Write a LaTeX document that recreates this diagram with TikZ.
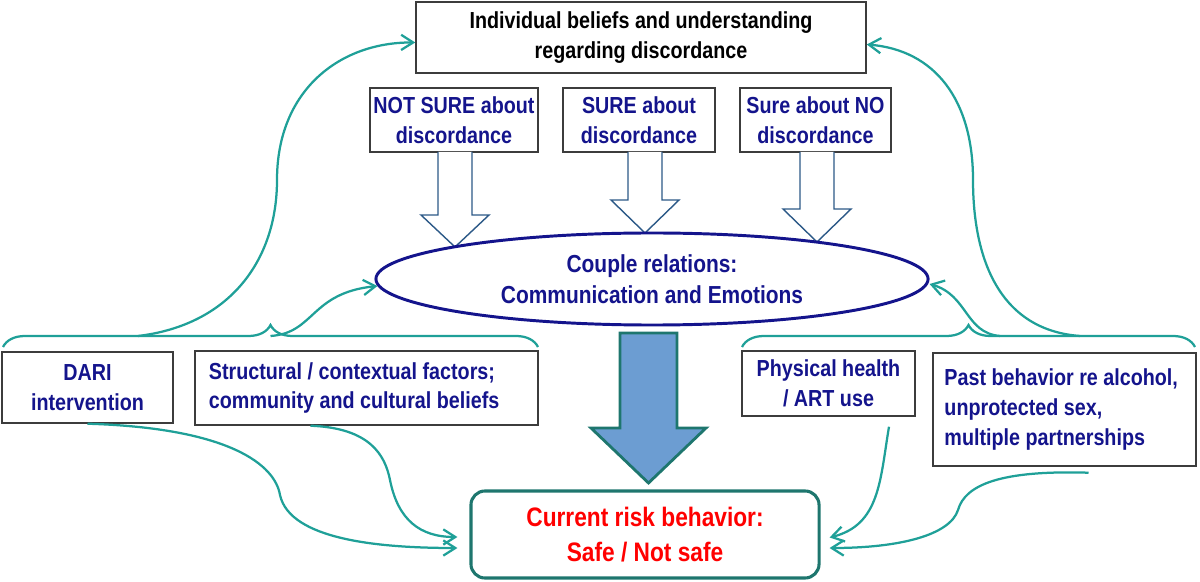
\documentclass[tikz,border=0pt]{standalone}
\usepackage{fontspec}
\setmainfont[FakeStretch=0.85]{Liberation Sans}
\usepackage{tikz}
\usetikzlibrary{arrows.meta,shapes.geometric,decorations.pathreplacing,calc}
\definecolor{navytext}{HTML}{14148C}
\definecolor{tealline}{HTML}{1FA098}
\definecolor{tealdark}{HTML}{1E766E}
\definecolor{hollowblue}{HTML}{2C5987}
\definecolor{bigfill}{HTML}{6C9DD2}
\definecolor{boxgray}{HTML}{3C3C3C}
\newcommand\hollowarrow[4]{\draw[hollow] (#1-17,#2) -- (#1-17,#3) -- (#1-34,#3) -- (#1,#4) -- (#1+34,#3) -- (#1+17,#3) -- (#1+17,#2);}

\begin{document}
\begin{tikzpicture}[x=0.025cm, y=-0.025cm, font=\fontsize{16.5}{21}\selectfont\bfseries,
	box/.style={draw=boxgray, line width=1pt, inner sep=0pt, align=center},
	link/.style={draw=tealline, line width=1.6pt, -{Straight Barb[length=3mm,width=3.8mm]}},
	hollow/.style={draw=hollowblue, line width=1pt, fill=white},
	curly/.style={draw=tealline, line width=1.6pt, decorate, decoration={brace, amplitude=0.55cm}}]
	\useasboundingbox (0,0) rectangle (1200,582);
	\node[box, minimum width=11.25cm, minimum height=1.775cm] (beliefs) at (641,37.5) {Individual beliefs and understanding\\regarding discordance};
	\node[box, text=navytext, minimum width=4.2cm, minimum height=1.6cm] (notsure) at (454,120) {NOT SURE about\\discordance};
	\node[box, text=navytext, minimum width=3.8cm, minimum height=1.6cm] (sure) at (639,120) {SURE about\\discordance};
	\node[box, text=navytext, minimum width=3.775cm, minimum height=1.6cm] (sureno) at (815.5,120) {Sure about NO\\discordance};
	\hollowarrow{455}{152}{215}{247}
	\hollowarrow{645}{152}{200}{233}
	\hollowarrow{817}{152}{209}{242}
	\node[ellipse, draw=navytext, line width=2.1pt, text=navytext, inner sep=0pt, align=center, minimum width=13.8cm, minimum height=2.3cm, font=\fontsize{17.5}{22}\selectfont\bfseries] (couple) at (652,279) {Couple relations:\\Communication and Emotions};
	\draw[draw=tealdark, line width=2pt, fill=bigfill] (620,333) -- (677,333) -- (677,428) -- (706,428) -- (648.5,483) -- (591,428) -- (620,428) -- cycle;
	\node[draw=tealdark, line width=2.2pt, rounded corners=0.35cm, text=red, align=center, minimum width=8.7cm, minimum height=2.175cm, font=\fontsize{19}{25}\selectfont\bfseries] (risk) at (645,534.5) {Current risk behavior:\\Safe / Not safe};
	\node[box, text=navytext, minimum width=4.275cm, minimum height=1.775cm] (dari) at (87.5,387.5) {DARI\\intervention};
	\node[box, text=navytext, align=flush left, inner xsep=0.35cm, text width=7.875cm, minimum height=1.85cm] (struct) at (366.5,388) {Structural / contextual factors;\\community and cultural beliefs};
	\node[box, text=navytext, minimum width=4.325cm, minimum height=1.625cm] (health) at (828.5,383.5) {Physical health\\/ ART use};
	\node[box, text=navytext, align=flush left, inner xsep=0.2875cm, text width=6cm, minimum height=2.825cm] (past) at (1064.5,409.5) {Past behavior re alcohol,\\unprotected sex,\\multiple partnerships};
	\draw[curly] (3,347) -- (538,347);
	\draw[curly] (742,347) -- (1195,347);
	\coordinate (lfoot) at (138,336);
	\coordinate (ltip) at (270.5,336);
	\coordinate (rmid) at (1000,336);
	\coordinate (rfoot) at (1080,336);
	\draw[link] (lfoot) .. controls (230,325) and (277,260) .. (277,180) .. controls (277,90) and (340,42) .. ($(beliefs.west)+(0,5)$);
	\draw[link] (rfoot) .. controls (1000,330) and (973,260) .. (973,180) .. controls (973,100) and (935,50) .. ($(beliefs.east)+(0,7)$);
	\draw[link] (ltip) .. controls (315,333) and (310,293) .. ($(couple.west)+(3,7)$);
	\draw[link] (rmid) .. controls (965,333) and (968,295) .. ($(couple.east)+(0,5)$);
	\draw[link] (dari.south) .. controls (230,428) and (275,465) .. (280,495) .. controls (290,540) and (380,548) .. ($(risk.west)+(-12,13.5)$);
	\draw[link] ($(struct.south)+(-56,0)$) .. controls (370,428) and (385,455) .. (390,480) .. controls (398,520) and (420,537) .. ($(risk.west)+(-12,2.5)$);
	\draw[link] ($(health.south)+(60.5,10)$) .. controls (880,480) and (880,525) .. ($(risk.east)+(9,3)$);
	\draw[link] ($(past.south)+(24,6)$) .. controls (1000,470) and (965,485) .. (958,510) .. controls (950,535) and (900,548) .. ($(risk.east)+(9,13.5)$);
\end{tikzpicture}
\end{document}
